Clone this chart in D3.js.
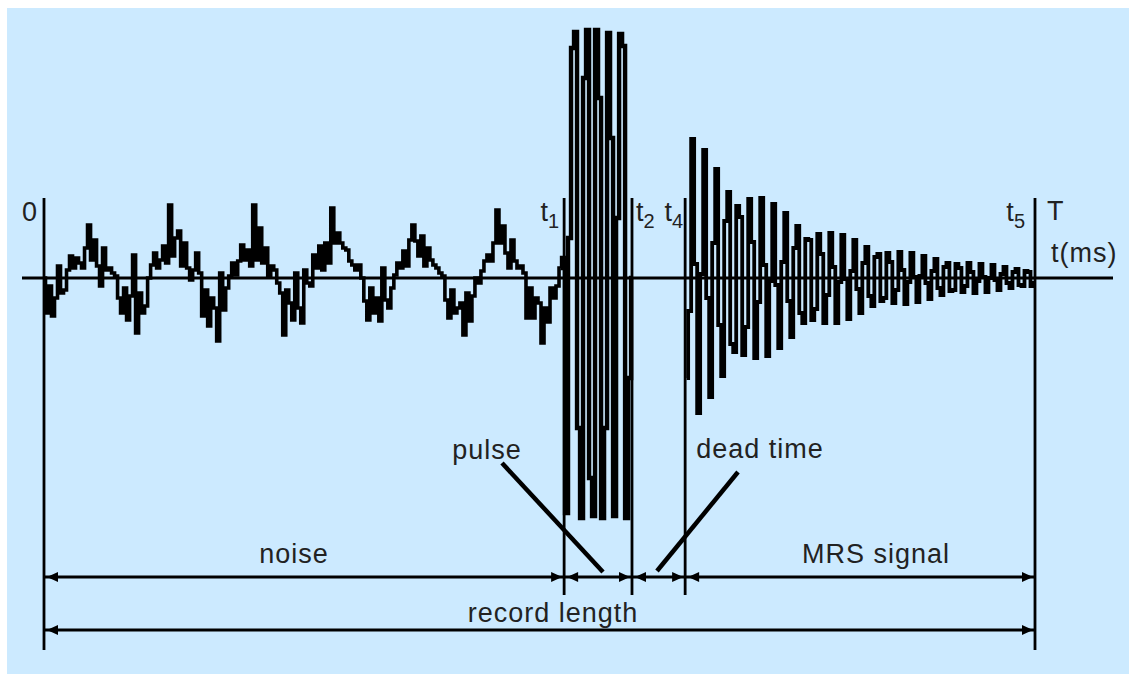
<!DOCTYPE html>
<html><head><meta charset="utf-8">
<script src="https://cdn.jsdelivr.net/npm/d3@7"></script>
<style>
body{margin:0;background:#fff}
text{font-family:"Liberation Sans",Arial,sans-serif;fill:#222}
</style>
</head><body>
<svg id="c" width="1129" height="674"></svg>
<script>
// ---- data (amplitude in arbitrary units, sample index = time step) ----
const noiseStart = 0;
const noiseValues = [0,-35,-8,-38,-20,12,-15,-12,8,22,
10,20,15,10,30,53,18,38,12,-8,
30,8,10,5,2,-20,-35,-10,-42,-18,
23,-55,-15,-35,-28,0,13,25,10,18,
32,15,73,22,40,47,12,35,10,-2,
8,25,5,-38,-12,-48,-20,-30,-63,5,
-32,-10,2,15,3,17,33,18,28,12,
73,18,50,15,30,2,12,8,-5,-15,
-57,-12,-25,-42,5,-30,-45,8,-5,-8,
23,10,32,8,35,15,70,35,45,35,
30,28,17,13,8,13,0,-23,-42,-10,
-35,-20,-43,10,-22,-30,-10,3,15,10,
27,12,38,53,37,22,42,12,30,18,
13,10,5,2,-22,-40,-12,-35,-30,-25,
-57,-15,-43,-18,0,-5,7,17,23,17,
35,68,35,52,25,10,38,17,10,12,
5,-40,-10,-40,-20,-25,-65,-30,-44,-10,
-20,-8,10];
const pulseStart = 173;
const pulseValues = [20,-235,40,230,246,-150,-240,200,248,-200,-238,248,180,-240,-150,245,140,-238,60,244,232,-240,-100,0];
const mrsStart = 214;
const mrsValues = [-100,-33,139,14,-135,4,128,-20,-119,35,
109,-47,-98,57,86,-66,-74,72,61,-77,
-49,79,36,-80,-24,80,13,-78,-3,74,
-7,-70,16,65,-23,-59,30,52,-35,-45,
39,38,-42,-31,44,24,-45,-17,45,11,
-45,-4,43,-1,-41,7,38,-11,-35,15,
31,-18,-28,21,24,-23,-20,25,16,-25,
-12,26,8,-26,-4,25,1,-24,2,22,
-5,-21,7,19,-10,-17,11,15,-13,-12,
14,10,-14,-8,15,6,-15,-3,14,1,
-14,0,13,-2,-12,4,11,-5,-10,6,
9,-7,-8,7,6,-8,-5];

// time markers
const markerTimes = [0, 173.2, 195.8, 213.5, 330];
const markerNames = ["0", "t1", "t2", "t4", "T"];
const tickMain = ["0", "t", "t", "t", "t"];
const tickSub  = ["", "1", "2", "4", "5"];
const axisLabel = "t(ms)";
const endLabel = "T";
// dimension rows
const row1Bounds = [0, 173.2, 195.8, 213.5, 330];
const row1Labels = ["noise", "", "", "MRS signal"];
const row2Bounds = [0, 330];
const row2Labels = ["record length"];
const pointerLabels = ["pulse", "dead time"];

// ---- layout ----
const svg = d3.select("#c");
const x = d3.scaleLinear().domain([0, 330]).range([44, 1035]);
const y = d3.scaleLinear().domain([-250, 250]).range([528, 28]);
const baseY = y(0);

svg.append("rect").attr("x", 7).attr("y", 8).attr("width", 1122).attr("height", 666).attr("fill", "#cceaff");

const g = svg.append("g");

// baseline (time axis)
g.append("line").attr("x1", 22).attr("x2", 1113).attr("y1", baseY).attr("y2", baseY)
  .attr("stroke", "#000").attr("stroke-width", 3);

// marker lines
const markerBottoms = [650, 595, 595, 595, 650];
markerTimes.forEach((t, k) => {
  g.append("line").attr("x1", x(t)).attr("x2", x(t)).attr("y1", 198).attr("y2", markerBottoms[k])
    .attr("stroke", "#000").attr("stroke-width", 2.8);
});

// signals
const lineGen = start => d3.line().x((d, i) => x(start + i)).y(d => y(d)).curve(d3.curveStep);
const sig = g.append("g").attr("fill", "none").attr("stroke", "#000")
  .attr("stroke-linejoin", "miter").attr("stroke-linecap", "butt");
sig.append("path").attr("stroke-width", 3.6).attr("d", lineGen(noiseStart)(noiseValues));
sig.append("path").attr("stroke-width", 4.4)
  .attr("d", lineGen(pulseStart - 1)([noiseValues[noiseValues.length - 1]].concat(pulseValues)));
sig.append("path").attr("stroke-width", 3.8).attr("d", lineGen(mrsStart)(mrsValues));

// tick labels
const fs = 27;
const tickAnchor = ["end", "end", "start", "end", "end"];
const tickDx = [-7, -5, 4, -2, -10];
markerTimes.forEach((t, k) => {
  const tx = g.append("text").attr("x", x(t) + tickDx[k]).attr("y", 221)
    .attr("text-anchor", tickAnchor[k]).style("font-size", fs + "px");
  tx.append("tspan").text(tickMain[k]);
  if (tickSub[k]) tx.append("tspan").attr("dy", 7).style("font-size", "20px").text(tickSub[k]);
});
g.append("text").attr("x", x(330) + 12).attr("y", 220).style("font-size", fs + "px").text(endLabel);
g.append("text").attr("x", x(330) + 16).attr("y", 262).style("font-size", fs + "px")
  .style("letter-spacing", "1px").text(axisLabel);

// dimension arrows
function arrowRow(bounds, yy) {
  g.append("line").attr("x1", x(bounds[0])).attr("x2", x(bounds[bounds.length - 1]))
    .attr("y1", yy).attr("y2", yy).attr("stroke", "#000").attr("stroke-width", 2.8);
  for (let k = 0; k < bounds.length - 1; k++) {
    const a = x(bounds[k]) + 3, b = x(bounds[k + 1]) - 2;
    g.append("path").attr("d", `M${a},${yy}L${a + 11},${yy - 5}L${a + 11},${yy + 5}Z`).attr("fill", "#000");
    g.append("path").attr("d", `M${b},${yy}L${b - 11},${yy - 5}L${b - 11},${yy + 5}Z`).attr("fill", "#000");
  }
}
arrowRow(row1Bounds, 577);
arrowRow(row2Bounds, 630);

// dimension labels
const lbl = (s, cx, by) => g.append("text").attr("x", cx).attr("y", by).attr("text-anchor", "middle")
  .style("font-size", fs + "px").style("letter-spacing", "1px").text(s);
lbl(row1Labels[0], 294, 563);
lbl(row1Labels[3], 876, 563);
lbl(row2Labels[0], 553, 622);
lbl(pointerLabels[0], 487, 459);
lbl(pointerLabels[1], 760, 458);

// pointer lines
g.append("line").attr("x1", 502).attr("y1", 463).attr("x2", 603).attr("y2", 572)
  .attr("stroke", "#000").attr("stroke-width", 4.5);
g.append("line").attr("x1", 738).attr("y1", 472).attr("x2", 657).attr("y2", 571)
  .attr("stroke", "#000").attr("stroke-width", 4.5);
</script>
</body></html>
